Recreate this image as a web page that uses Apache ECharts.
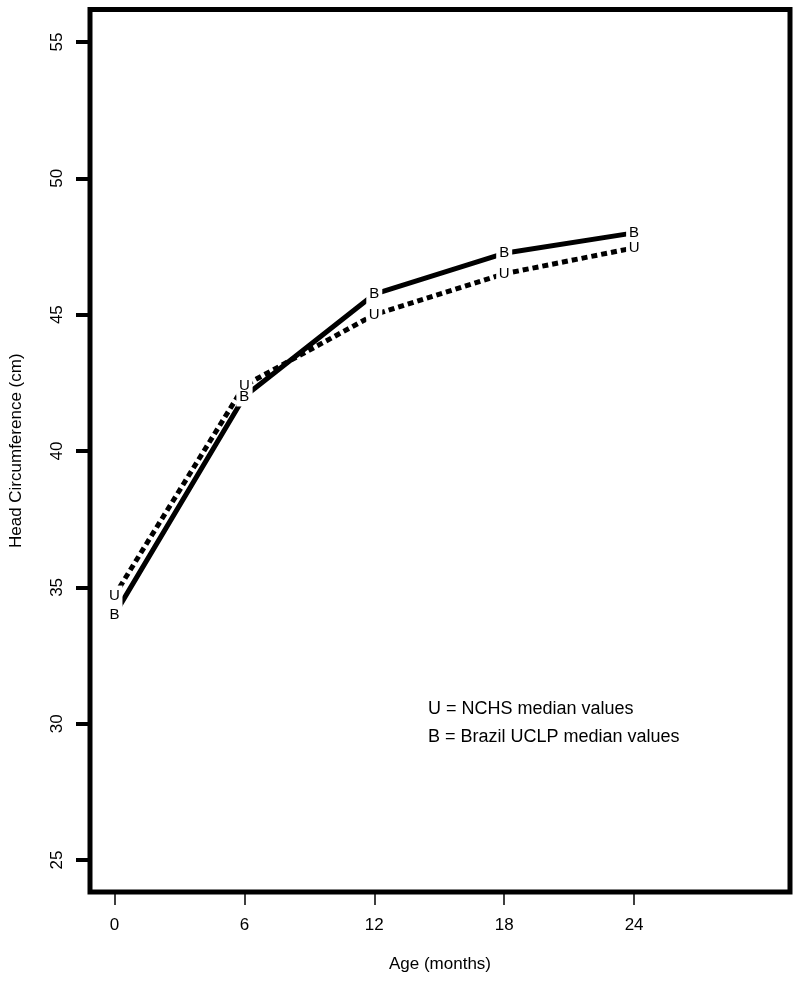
<!DOCTYPE html>
<html>
<head>
<meta charset="utf-8">
<script src="https://cdn.jsdelivr.net/npm/echarts@6/dist/echarts.min.js"></script>
<style>html,body{margin:0;padding:0;background:#fff;}#c{width:800px;height:982px;}</style>
</head>
<body>
<div id="c"></div>
<script>
const ages = [0, 6, 12, 18, 24];
const nchs = [34.7, 42.4, 45.0, 46.5, 47.45];
const brazil = [34.0, 42.0, 45.75, 47.25, 48.0];
const xTicks = [0, 6, 12, 18, 24];
const yTicks = [25, 30, 35, 40, 45, 50, 55];
const legendLines = ['U = NCHS median values', 'B = Brazil UCLP median values'];

const font = '"Liberation Sans", Arial, sans-serif';
const chart = echarts.init(document.getElementById('c'));
function mk(name, vals, letter, lineType) {
  return {
    name: name, type: 'line',
    data: ages.map((a, i) => [a, vals[i]]),
    symbol: 'rect', symbolSize: [16, 20],
    itemStyle: { color: '#fff', borderWidth: 0 },
    lineStyle: { color: '#000', width: 5, type: lineType, cap: 'butt' },
    label: { show: true, position: 'inside', formatter: letter, color: '#000',
      fontSize: 15, fontFamily: font },
    emphasis: { disabled: true }, animation: false
  };
}
chart.setOption({
  animation: false,
  grid: { left: 89.5, right: 10, top: 9.5, bottom: 90, show: true,
    borderColor: '#000', borderWidth: 5, backgroundColor: 'transparent' },
  xAxis: {
    type: 'value', min: -1.13, max: 31.2,
    name: 'Age (months)', nameLocation: 'middle', nameGap: 64,
    nameTextStyle: { color: '#000', fontSize: 17, fontFamily: font },
    axisLine: { show: false, onZero: false },
    axisTick: { show: true, length: 13, lineStyle: { color: '#000', width: 1.5 }, customValues: xTicks },
    axisLabel: { color: '#000', fontSize: 17, fontFamily: font, margin: 25, customValues: xTicks },
    splitLine: { show: false }
  },
  yAxis: {
    type: 'value', min: 23.83, max: 56.19,
    name: 'Head Circumference (cm)', nameLocation: 'middle', nameGap: 65,
    nameTextStyle: { color: '#000', fontSize: 17, fontFamily: font },
    axisLine: { show: false, onZero: false },
    axisTick: { show: true, length: 14, lineStyle: { color: '#000', width: 4 }, customValues: yTicks },
    axisLabel: { color: '#000', fontSize: 17, fontFamily: font, margin: 24, rotate: 90, customValues: yTicks },
    splitLine: { show: false }
  },
  series: [
    mk('NCHS', nchs, 'U', [6, 4]),
    mk('Brazil', brazil, 'B', 'solid')
  ],
  graphic: legendLines.map((t, i) => ({
    type: 'text', left: 428, top: 700 + i * 28,
    style: { text: t, fill: '#000', fontSize: 18, fontFamily: font }
  }))
});
</script>
</body>
</html>
